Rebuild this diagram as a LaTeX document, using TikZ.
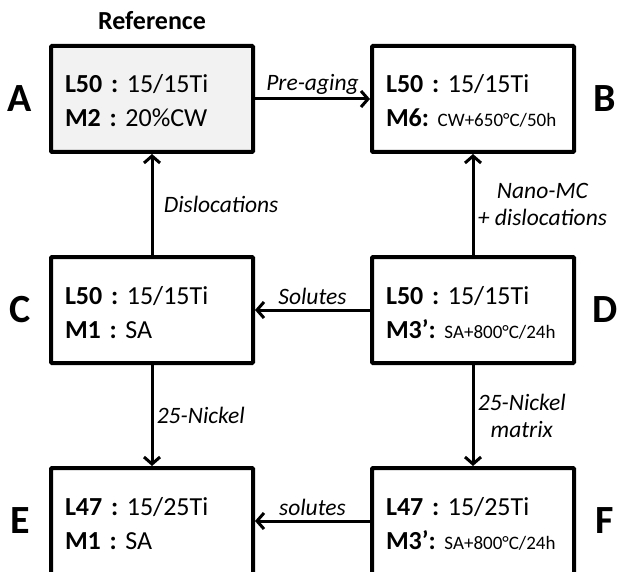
\documentclass[tikz,border=0pt]{standalone}
\usepackage{fontspec}
\setmainfont{Carlito}
\frenchspacing
\usetikzlibrary{arrows.meta, positioning}

\newcommand{\alloy}[4]{\hspace*{6pt}\rule{0pt}{30pt}\textbf{#1} #2\\\hspace*{6pt}\textbf{#3} #4\rule[-8pt]{0pt}{0pt}}
\newcommand{\heat}[1]{{\fontsize{19}{34}\selectfont #1}}

\tikzset{
	cell/.style={draw, line width=4pt, rounded corners=1pt, minimum width=202pt, minimum height=106pt,
		text width=186pt, inner xsep=8pt, inner ysep=0pt, align=left, font=\fontsize{26}{34}\selectfont},
	tag/.style={font=\fontsize{40}{40}\selectfont\bfseries},
	head/.style={font=\fontsize{26}{26}\selectfont\bfseries},
	lbl/.style={font=\fontsize{23.5}{27}\selectfont\itshape, align=center},
	arr/.style={line width=3pt, -{Straight Barb[length=7pt, width=16pt]}},
}

\begin{document}
\begin{tikzpicture}[x=1pt, y=-1pt, node distance=211pt and 321pt, on grid]
	\useasboundingbox (0,0) rectangle (618,572);
	\node[cell, fill=black!5] (A) at (152,99) {\alloy{L50 :}{15/15Ti}{M2 :}{20\%CW}};
	\node[cell, right=of A] (B) {\alloy{L50 :}{15/15Ti}{M6:}{\heat{CW+650°C/50h}}};
	\node[cell, below=of A] (C) {\alloy{L50 :}{15/15Ti}{M1 :}{SA}};
	\node[cell, below=of B] (D) {\alloy{L50 :}{15/15Ti}{M3’:}{\heat{SA+800°C/24h}}};
	\node[cell, below=of C] (E) {\alloy{L47 :}{15/25Ti}{M1 :}{SA}};
	\node[cell, below=of D] (F) {\alloy{L47 :}{15/25Ti}{M3’:}{\heat{SA+800°C/24h}}};
	\node[head, above=78pt of A] (ref) {Reference};
	
	% Letters
	\node[tag, left=132pt of A] (tA) {A};
	\node[tag, right=132pt of B] (tB) {B};
	\node[tag, left=132pt of C] (tC) {C};
	\node[tag, right=132pt of D] (tD) {D};
	\node[tag, left=132pt of E] (tE) {E};
	\node[tag, right=132pt of F] (tF) {F};
	
	% Transitions
	\path[arr]
	(A) edge node[lbl, above] {Pre-aging} (B)
	(C) edge node[lbl, right, xshift=7pt] {Dislocations} (A)
	edge node[lbl, right] {25-Nickel} (E)
	(D) edge node[lbl, right] {Nano-MC\\+ dislocations} (B)
	edge node[lbl, above] {Solutes} (C)
	edge node[lbl, right] {25-Nickel\\matrix} (F)
	(F) edge node[lbl, above] {solutes} (E)
	;
\end{tikzpicture}
\end{document}
